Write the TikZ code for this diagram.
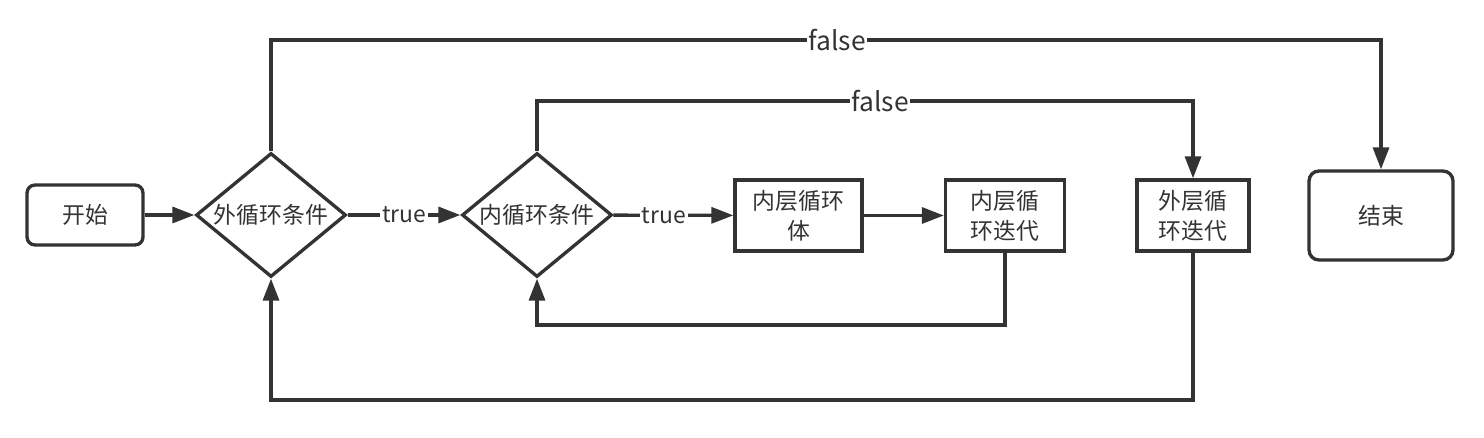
\documentclass[tikz,border=0pt]{standalone}
\usepackage{fontspec}
\setmainfont{Noto Sans CJK SC}
\usetikzlibrary{shapes.geometric,arrows.meta}
\definecolor{ink}{HTML}{333333}
\begin{document}
\begin{tikzpicture}[x=0.02cm,y=-0.02cm,
  line/.style={draw=ink,line width=1.9pt},
  arr/.style={line,-{Triangle[length=0.44cm,width=0.32cm]}},
  txt/.style={text=ink,font=\fontsize{13}{17}\selectfont,align=center},
  term/.style={line,txt,rounded corners=0.16cm,inner sep=0pt,minimum width=2.32cm,minimum height=1.2cm},
  dia/.style={line,txt,diamond,shape aspect=1.21,inner sep=0pt,minimum width=3cm,minimum height=2.48cm},
  box/.style={line,txt,inner sep=0pt,minimum height=1.42cm},
  lbl/.style={fill=white,inner sep=1pt,text=ink,font=\fontsize{13}{16}\selectfont},
  flbl/.style={fill=white,inner sep=1pt,text=ink,font=\fontsize{15}{18}\selectfont}
]
\useasboundingbox (0,0) rectangle (1484,438);
\node[term] (start) at (85,215) {开始};
\node[dia] (od) at (271,215) {外循环条件};
\node[dia] (id) at (537,215) {内循环条件};
\node[box,minimum width=2.54cm] (body) at (798.5,215.5) {内层循环\\体};
\node[box,minimum width=2.38cm] (iit) at (1005,215.5) {内层循\\环迭代};
\node[box,minimum width=2.24cm] (oit) at (1193,215.5) {外层循\\环迭代};
\node[term,minimum width=2.88cm,minimum height=1.78cm,rounded corners=0.2cm] (end) at (1381,215.5) {结束};

\draw[arr] (start) -- (od);
\draw[arr] (od) -- node[lbl]{true} (id);
\draw[arr] (id) -- node[lbl,pos=0.42]{true} (body);
\draw[arr] (body) -- (iit);

\coordinate (a1) at (271,40);
\coordinate (a2) at (1381,40);
\draw[arr] (od.north) -- (a1) -- node[flbl,pos=0.51]{false} (a2) -- (end.north);

\coordinate (b1) at (537,101);
\coordinate (b2) at (1193,101);
\draw[arr] (id.north) -- (b1) -- node[flbl,pos=0.523]{false} (b2) -- (oit.north);

\coordinate (c1) at (1005,325);
\coordinate (c2) at (537,325);
\draw[arr] (iit.south) -- (c1) -- (c2) -- (id.south);

\coordinate (d1) at (1193,400);
\coordinate (d2) at (271,400);
\draw[arr] (oit.south) -- (d1) -- (d2) -- (od.south);
\end{tikzpicture}
\end{document}
